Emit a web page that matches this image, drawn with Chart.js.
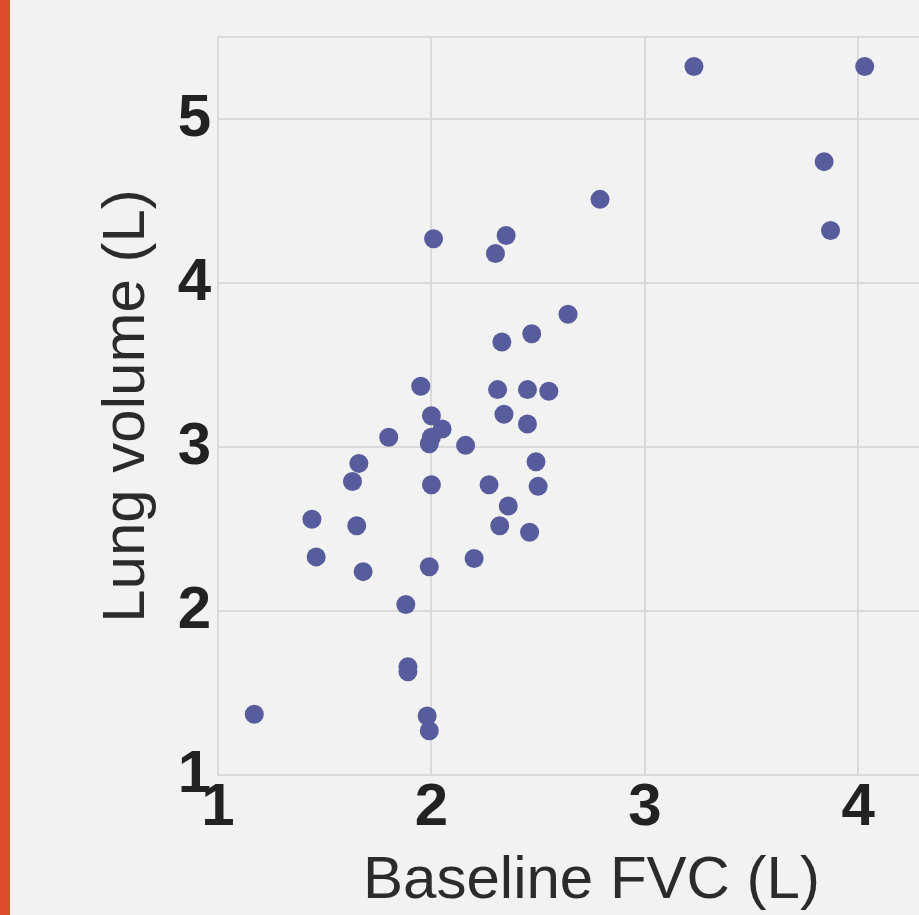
<!DOCTYPE html>
<html>
<head>
<meta charset="utf-8">
<script src="https://cdn.jsdelivr.net/npm/chart.js@4"></script>
<style>
  html, body { margin: 0; padding: 0; background: #f2f2f2; overflow: hidden; }
  #bar { position: absolute; left: 0; top: 0; width: 10px; height: 915px; background: #dd4c28; z-index: 2; }
  #wrap { position: absolute; left: 0; top: 0; width: 975px; height: 915px; }
</style>
</head>
<body>
<div id="bar"></div>
<div id="wrap"><canvas id="chart"></canvas></div>
<script>
// Baseline FVC (L) vs lung volume (L)
const fvc = [1.17, 1.44, 1.46, 1.63, 1.65, 1.66, 1.68, 1.80, 1.88, 1.89, 1.89, 1.95, 1.98, 1.99,
             1.99, 2.00, 2.00, 2.05, 2.00, 1.99, 2.01, 2.16, 2.27, 2.50, 2.49, 2.36, 2.32, 2.46,
             2.20, 2.31, 2.45, 2.55, 2.34, 2.45, 2.33, 2.47, 2.64, 2.30, 2.35, 2.79, 3.23, 4.03,
             3.84, 3.87];
const lungVolume = [1.37, 2.56, 2.33, 2.79, 2.52, 2.90, 2.24, 3.06, 2.04, 1.66, 1.63, 3.37, 1.36, 1.27,
                    2.27, 2.77, 3.19, 3.11, 3.06, 3.02, 4.27, 3.01, 2.77, 2.76, 2.91, 2.64, 2.52, 2.48,
                    2.32, 3.35, 3.35, 3.34, 3.20, 3.14, 3.64, 3.69, 3.81, 4.18, 4.29, 4.51, 5.32, 5.32,
                    4.74, 4.32];
const xRange = [1, 4.5];
const yRange = [1, 5.5];

const points = fvc.map((x, i) => ({ x: x, y: lungVolume[i] }));

const gridColor = '#dadada';
const tickFont = { family: 'Liberation Sans', size: 60, weight: 'bold', lineHeight: 1 };
const titleFont = { family: 'Liberation Sans', size: 60, weight: 'normal', lineHeight: 1 };

// top edge of the plot frame
const frameTop = {
    id: 'frameTop',
    beforeDatasetsDraw(chart) {
        const a = chart.chartArea;
        const ctx = chart.ctx;
        ctx.save();
        ctx.strokeStyle = gridColor;
        ctx.lineWidth = 2;
        ctx.beginPath();
        ctx.moveTo(a.left, a.top);
        ctx.lineTo(a.right, a.top);
        ctx.stroke();
        ctx.restore();
    }
};

new Chart(document.getElementById('chart'), {
    type: 'scatter',
    data: {
        datasets: [{
            data: points,
            backgroundColor: '#575c9c',
            borderWidth: 0,
            pointRadius: 9.5,
            pointHoverRadius: 9.5
        }]
    },
    options: {
        responsive: true,
        maintainAspectRatio: false,
        animation: false,
        layout: { padding: { top: 37, left: 0, right: 10, bottom: 0 } },
        plugins: { legend: { display: false }, tooltip: { enabled: false } },
        scales: {
            x: {
                type: 'linear',
                min: xRange[0],
                max: xRange[1],
                afterFit: function(scale) { scale.height = 140; },
                ticks: {
                    stepSize: 1,
                    includeBounds: false,
                    padding: 3,
                    color: '#222',
                    font: tickFont
                },
                grid: { color: gridColor, lineWidth: 2, drawTicks: false },
                border: { color: gridColor, width: 2 },
                title: {
                    display: true,
                    text: 'Baseline FVC (L)',
                    color: '#2b2b2b',
                    font: titleFont,
                    padding: { top: 0, bottom: 4 }
                }
            },
            y: {
                type: 'linear',
                min: yRange[0],
                max: yRange[1],
                afterFit: function(scale) { scale.width = 218; },
                ticks: {
                    stepSize: 1,
                    includeBounds: false,
                    padding: 7,
                    color: '#222',
                    font: tickFont
                },
                grid: { color: gridColor, lineWidth: 2, drawTicks: false },
                border: { color: gridColor, width: 2 },
                title: {
                    display: true,
                    text: 'Lung volume (L)',
                    color: '#2b2b2b',
                    font: titleFont,
                    padding: { top: 97, bottom: 0 }
                }
            }
        }
    },
    plugins: [frameTop]
});
</script>
</body>
</html>
